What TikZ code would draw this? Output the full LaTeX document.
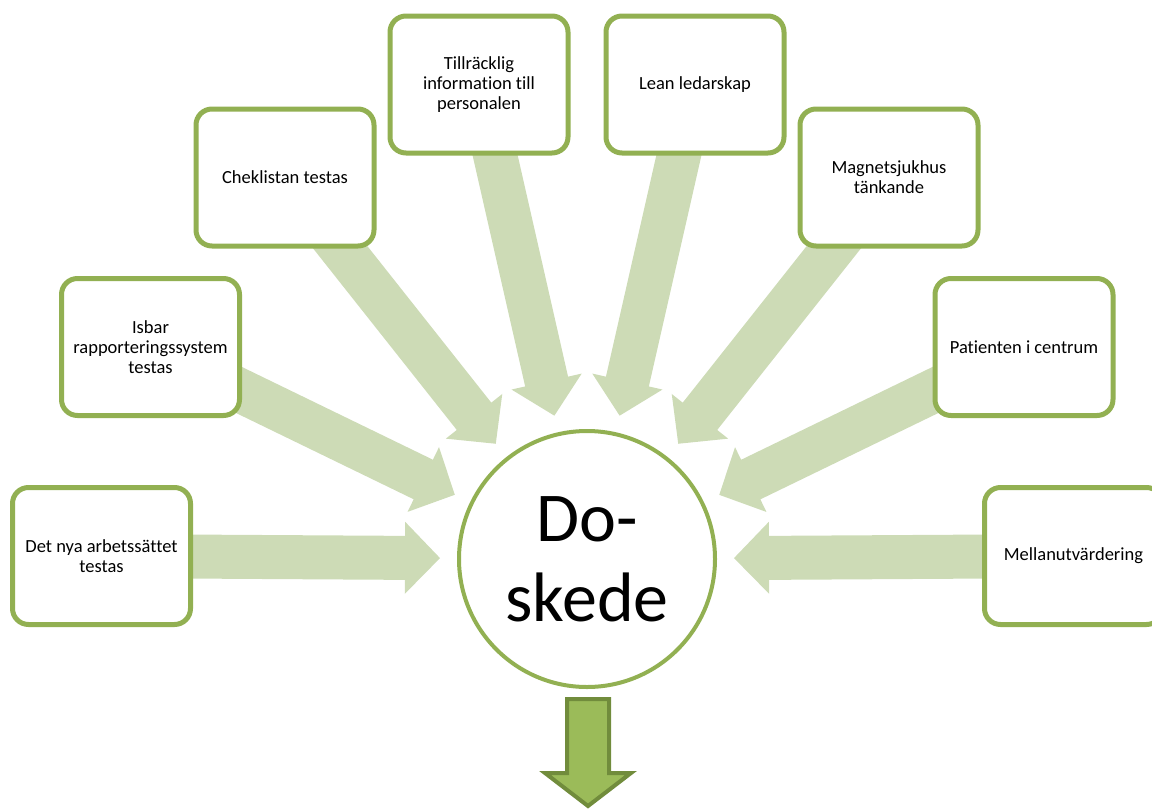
\documentclass[tikz,border=0pt]{standalone}
\usepackage{fontspec}
\setmainfont{Carlito}[Ligatures={NoCommon}]
\usetikzlibrary{calc}
\definecolor{boxgreen}{RGB}{146,176,82}
\definecolor{arrowlight}{RGB}{205,219,182}
\definecolor{arrowfill}{RGB}{155,187,89}
\definecolor{arrowedge}{RGB}{113,140,60}
\tikzset{
  stepbox/.style={draw=boxgreen, line width=5pt, fill=white, rounded corners=16pt,
    minimum width=178pt, minimum height=137pt, align=center, inner sep=0pt,
    font=\fontsize{18.5}{20}\selectfont},
  hub/.style={circle, draw=boxgreen, line width=4pt, fill=white, minimum size=256pt,
    align=center, inner sep=0pt, font=\fontsize{70}{80}\selectfont},
  fat/.style={fill=arrowlight},
  downarrow/.style={fill=arrowfill, draw=arrowedge, line width=4pt, line join=miter},
}
% #1 source node, #2 tip coordinate
\newcommand\fatarrow[2]{%
  \coordinate (hb) at ($(#2)!35pt!(#1.center)$);
  \fill[fat] ($(#1.center)!22pt!90:(#2)$) -- ($(hb)!22pt!90:(#2)$) -- ($(hb)!36pt!90:(#2)$)
    -- (#2) -- ($(hb)!36pt!-90:(#2)$) -- ($(hb)!22pt!-90:(#2)$)
    -- ($(#1.center)!22pt!-90:(#2)$) -- cycle;
}
\begin{document}
\begin{tikzpicture}[x=1pt,y=-1pt]
\useasboundingbox (0,0) rectangle (1152,809);
% positions
\coordinate (cc) at (587,559);
\coordinate (p1) at (101.5,556);
\coordinate (p2) at (150.5,347);
\coordinate (p3) at (285,177.5);
\coordinate (p4) at (479,84.5);
\coordinate (p5) at (695,84.5);
\coordinate (p6) at (889,177.5);
\coordinate (p7) at (1024,347);
\coordinate (p8) at (1073.5,556);
% tips
\foreach \i in {1,...,8}{
  \coordinate (t\i) at ($(cc)!147pt!(p\i)$);
}
% fat arrows (drawn first, behind boxes)
\foreach \i in {1,...,8}{
  \fatarrow{p\i}{t\i}
}
% boxes
\node[stepbox] (b1) at (p1) {Det nya arbetssättet\\testas};
\node[stepbox] (b2) at (p2) {Isbar\\rapporteringssystem\\testas};
\node[stepbox] (b3) at (p3) {Cheklistan testas};
\node[stepbox] (b4) at (p4) {Tillräcklig\\information till\\personalen};
\node[stepbox] (b5) at (p5) {Lean ledarskap};
\node[stepbox] (b6) at (p6) {Magnetsjukhus\\tänkande};
\node[stepbox] (b7) at (p7) {Patienten i centrum};
\node[stepbox] (b8) at (p8) {Mellanutvärdering};
% hub
\node[hub] (c) at (cc) {Do-\\skede};
% bottom arrow
\draw[downarrow] (567,699) -- (609,699) -- (609,773) -- (631,773) -- (588,806)
  -- (545,773) -- (567,773) -- cycle;
\end{tikzpicture}
\end{document}
